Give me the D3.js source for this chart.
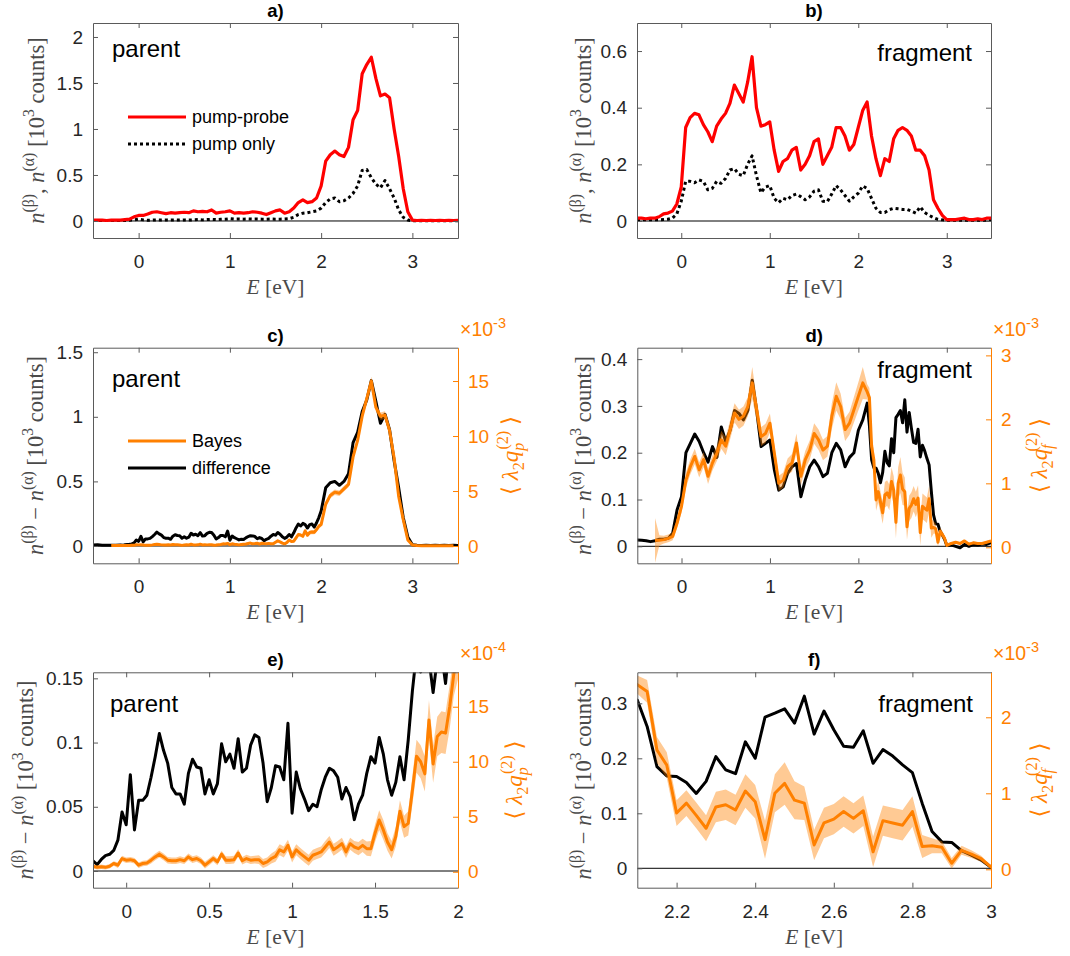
<!DOCTYPE html>
<html><head><meta charset="utf-8">
<script src="https://cdn.jsdelivr.net/npm/d3@7"></script>
<style>
body{margin:0;background:#fff}
svg{display:block}
</style>
</head><body>
<svg id="fig" width="1070" height="956" font-family="Liberation Sans, Arial, sans-serif"></svg>
<script>
// ---------------- DATA ----------------
// energy grid of panels a) and b)  [eV]
const gridAB = [-0.5,-0.45,-0.4,-0.35,-0.3,-0.25,-0.2,-0.15,-0.1,-0.05,0,0.05,0.1,0.15,0.2,0.25,0.3,0.35,0.4,0.45,0.5,0.55,0.6,0.65,0.7,0.75,0.8,0.85,0.9,0.95,1,1.05,1.1,1.15,1.2,1.25,1.3,1.35,1.4,1.45,1.5,1.55,1.6,1.65,1.7,1.75,1.8,1.85,1.9,1.95,2,2.05,2.1,2.15,2.2,2.25,2.3,2.35,2.4,2.45,2.5,2.55,2.6,2.65,2.7,2.75,2.8,2.85,2.9,2.95,3,3.05,3.1,3.15,3.2,3.25,3.3,3.35,3.4,3.45,3.5];
// a) parent, 10^3 counts
const parentPumpProbe = [0.01,0.01,0.01,0.005,0.01,0.01,0.01,0.015,0.02,0.045,0.06,0.06,0.075,0.095,0.1,0.09,0.08,0.09,0.085,0.09,0.095,0.09,0.11,0.1,0.105,0.1,0.12,0.085,0.095,0.1,0.11,0.085,0.09,0.085,0.09,0.1,0.095,0.085,0.07,0.09,0.11,0.12,0.085,0.1,0.14,0.2,0.23,0.2,0.21,0.25,0.38,0.65,0.72,0.76,0.72,0.7,0.8,1.1,1.2,1.6,1.7,1.78,1.55,1.36,1.38,1.34,1.0,0.7,0.35,0.1,0.01,0.005,0.008,0.005,0.006,0.005,0.008,0.005,0.006,0.005,0.006];
const parentPumpOnly = [0.005,0.005,0.005,0.004,0.005,0.005,0.005,0.006,0.008,0.012,0.02,0.012,0.008,0.01,0.012,0.01,0.012,0.01,0.012,0.01,0.012,0.01,0.012,0.015,0.012,0.015,0.018,0.015,0.018,0.02,0.025,0.02,0.022,0.02,0.022,0.02,0.022,0.02,0.02,0.022,0.02,0.02,0.022,0.025,0.04,0.07,0.085,0.09,0.1,0.11,0.14,0.2,0.24,0.25,0.21,0.22,0.25,0.3,0.38,0.55,0.56,0.47,0.4,0.36,0.44,0.35,0.25,0.12,0.04,0.01,0.003,0.003,0.003,0.003,0.003,0.003,0.003,0.003,0.003,0.003,0.003];
// b) fragment, 10^3 counts
const fragPumpProbe = [0.01,0.01,0.008,0.01,0.01,0.015,0.025,0.028,0.035,0.06,
 0.12,0.33,0.365,0.38,0.375,0.34,0.315,0.28,0.335,0.36,0.38,0.415,0.48,0.45,0.42,0.49,0.58,0.4,0.335,0.34,
 0.35,0.25,0.175,0.21,0.22,0.25,0.26,0.18,0.2,0.23,0.28,0.29,0.2,0.23,0.26,0.33,0.33,0.3,0.25,0.27,
 0.33,0.39,0.42,0.3,0.22,0.16,0.22,0.21,0.29,0.32,0.33,0.32,0.3,0.25,0.25,0.23,0.18,0.075,0.045,0.02,
 0.005,0.005,0.005,0.008,0.01,0.005,0.005,0.008,0.005,0.01,0.01];
const fragPumpOnly = [0.004,0.004,0.004,0.004,0.004,0.004,0.005,0.006,0.01,0.025,
 0.07,0.14,0.14,0.135,0.145,0.14,0.11,0.115,0.14,0.133,0.15,0.18,0.185,0.165,0.16,0.2,0.23,0.16,0.1,0.12,
 0.125,0.08,0.065,0.08,0.075,0.09,0.095,0.086,0.075,0.085,0.105,0.11,0.07,0.068,0.095,0.125,0.11,0.09,0.07,0.085,
 0.098,0.124,0.115,0.08,0.045,0.03,0.03,0.04,0.045,0.043,0.041,0.041,0.035,0.028,0.05,0.03,0.02,0.012,0.006,0.004,
 0.003,0.003,0.003,0.003,0.003,0.003,0.003,0.003,0.003,0.003,0.003];

// c) / e) parent: energy grid [eV]
const parentE = [-0.5,-0.45,-0.4,-0.35,-0.3,-0.25,
 -0.2,-0.175,-0.15,-0.125,-0.1,-0.075,-0.05,-0.025,
 0,0.025,0.05,0.075,0.1,0.125,0.15,0.175,
 0.2,0.225,0.25,0.275,0.3,0.325,0.35,0.375,
 0.4,0.425,0.45,0.475,0.5,0.525,0.55,0.575,
 0.6,0.625,0.65,0.675,0.7,0.725,0.75,0.775,
 0.8,0.825,0.85,0.875,0.9,0.925,0.95,0.975,
 1,1.025,1.05,1.075,1.1,1.125,1.15,1.175,
 1.2,1.225,1.25,1.275,1.3,1.325,1.35,1.375,
 1.4,1.425,1.45,1.475,1.5,1.525,1.55,1.575,
 1.6,1.625,1.65,1.675,1.7,1.725,1.75,1.775,
 1.8,1.825,1.85,1.875,1.9,1.925,1.95,1.975,
 2,
 2.05,2.1,2.15,2.2,2.25,2.3,2.35,2.4,2.45,2.5,2.55,2.6,2.65,2.7,2.75,2.8,2.85,2.9,2.95,3,
 3.05,3.1,3.15,3.2,3.25,3.3,3.35,3.4,3.45,3.5];
// difference n(beta)-n(alpha), 10^3 counts
const parentDiff = [0.008,0.01,0.005,0.006,0.005,0.006,
 0.008,0.005,0.009,0.012,0.013,0.016,0.024,0.046,
 0.036,0.075,0.032,0.055,0.055,0.059,0.073,0.089,
 0.107,0.094,0.084,0.065,0.06,0.06,0.052,0.076,
 0.087,0.081,0.08,0.06,0.071,0.06,0.068,0.099,
 0.085,0.091,0.08,0.103,0.077,0.08,0.098,0.106,
 0.104,0.084,0.054,0.065,0.082,0.081,0.071,0.115,
 0.045,0.077,0.064,0.056,0.047,0.052,0.05,0.063,
 0.073,0.08,0.078,0.073,0.056,0.065,0.058,0.04,
 0.052,0.059,0.076,0.089,0.084,0.104,0.091,0.071,
 0.059,0.069,0.089,0.071,0.102,0.14,0.17,0.155,
 0.175,0.165,0.139,0.165,0.17,0.146,0.18,0.22,
 0.27,
 0.45,0.49,0.5,0.47,0.5,0.56,0.8,0.88,1.04,1.13,1.28,1.12,0.95,1.02,0.9,0.66,0.45,0.22,0.07,0.01,
 0.005,0.004,0.005,0.004,0.005,0.004,0.005,0.004,0.005,0.004];
// Bayes <lambda2 qp(2)>, units of 10^-3
const parentBayes = [null,null,null,null,0.04,0.05,
 0.05,0.04,0.045,0.04,0.05,0.075,0.06,0.12,
 0.105,0.11,0.1,0.06,0.075,0.08,0.105,0.135,
 0.16,0.135,0.105,0.1,0.1,0.11,0.1,0.135,
 0.11,0.12,0.1,0.06,0.09,0.12,0.09,0.16,
 0.105,0.105,0.11,0.17,0.1,0.12,0.105,0.11,
 0.11,0.075,0.09,0.12,0.14,0.2,0.18,0.24,
 0.135,0.2,0.165,0.135,0.105,0.15,0.165,0.18,
 0.225,0.27,0.2,0.225,0.255,0.18,0.255,0.225,
 0.21,0.24,0.21,0.21,0.35,0.47,0.38,0.27,
 0.2,0.32,0.55,0.41,0.44,0.74,1.05,1.0,
 0.89,1.38,0.98,1.23,1.27,1.26,1.5,1.8,
 1.95,
 3.8,4.6,4.9,4.8,5.2,5.6,8.1,9.6,11.8,13.4,15.0,12.6,11.8,11.9,10.5,8.0,4.5,2.4,0.55,0.1,
 0.05,0.03,0.03,0.02,0.03,0.02,0.02,0.03,0.02,null];
const parentBayesErr = [null,null,null,null,0.03,0.03,
 0.02,0.02,0.02,0.02,0.02,0.02,0.025,0.025,
 0.025,0.025,0.025,0.025,0.025,0.025,0.03,0.03,
 0.03,0.03,0.03,0.03,0.03,0.03,0.03,0.03,
 0.03,0.03,0.03,0.03,0.03,0.03,0.03,0.03,
 0.035,0.035,0.035,0.035,0.035,0.035,0.035,0.035,
 0.04,0.04,0.04,0.045,0.05,0.05,0.05,0.05,
 0.05,0.05,0.05,0.05,0.05,0.05,0.05,0.05,
 0.055,0.055,0.055,0.055,0.055,0.055,0.055,0.055,
 0.06,0.06,0.065,0.07,0.08,0.09,0.09,0.08,
 0.08,0.09,0.1,0.1,0.11,0.13,0.15,0.15,
 0.16,0.18,0.17,0.18,0.19,0.19,0.2,0.2,
 0.2,
 0.25,0.25,0.25,0.25,0.25,0.25,0.3,0.3,0.35,0.35,0.4,0.35,0.35,0.35,0.3,0.3,0.25,0.2,0.1,0.05,
 0.02,0.02,0.02,0.02,0.02,0.02,0.02,0.02,0.02,null];

// d) / f) fragment: energy grid [eV]
const fragE = [-0.5,-0.45,-0.4,-0.35,-0.3,-0.25,-0.2,-0.15,-0.1,-0.05,
 0,0.05,0.1,0.15,0.2,0.25,0.3,0.35,0.4,0.45,
 0.5,0.55,0.6,0.65,0.7,0.75,0.8,0.85,0.9,0.95,
 1,1.05,1.1,1.15,1.2,1.25,1.3,1.35,1.4,1.45,
 1.5,1.55,1.6,1.65,1.7,1.75,1.8,1.85,1.9,1.95,
 2,2.05,
 2.1,2.125,2.15,2.175,2.2,2.225,2.25,2.275,
 2.3,2.325,2.35,2.375,2.4,2.425,2.45,2.475,
 2.5,2.525,2.55,2.575,2.6,2.625,2.65,2.675,
 2.7,2.725,2.75,2.775,2.8,2.825,2.85,2.875,
 2.9,2.925,2.95,2.975,3,
 3.05,3.1,3.15,3.2,3.25,3.3,3.35,3.4,3.45,3.5];
const fragDiff = [0.0135,0.013,0.012,0.01,0.012,0.015,0.015,0.017,0.028,0.078,
 0.106,0.2,0.22,0.24,0.224,0.2,0.18,0.213,0.19,0.255,
 0.224,0.248,0.29,0.284,0.27,0.29,0.355,0.29,0.213,0.22,
 0.227,0.163,0.12,0.127,0.156,0.17,0.177,0.106,0.142,0.17,
 0.184,0.17,0.149,0.156,0.2,0.22,0.206,0.17,0.19,0.2,
 0.248,0.27,
 0.306,0.258,0.185,0.168,0.167,0.156,0.136,0.158,
 0.203,0.179,0.172,0.23,0.2,0.275,0.282,0.29,
 0.264,0.313,0.244,0.286,0.252,0.222,0.22,0.25,
 0.191,0.216,0.204,0.188,0.174,0.118,0.067,0.048,
 0.047,0.032,0.024,0.015,0.002,
 0.003,0.0,-0.003,0.004,0.0,0.004,0.003,0.005,0.004,0.008];
// Bayes <lambda2 qf(2)>, units of 10^-3
const fragBayes = [null,null,null,null,0.11,0.11,0.12,0.14,0.17,0.38,
 0.64,1.05,1.26,1.42,1.21,1.37,1.11,1.32,1.47,1.68,
 1.58,1.84,2.1,2.0,2.05,2.2,2.57,2.15,1.73,1.78,
 1.94,1.47,1.0,1.05,1.26,1.32,1.63,1.11,1.37,1.52,
 1.78,1.68,1.52,1.58,2.05,2.36,2.2,1.84,1.94,2.15,
 2.36,2.57,
 2.43,2.34,1.57,1.37,0.74,0.87,0.71,0.54,
 0.82,0.85,0.78,1.03,0.89,0.39,1.0,1.13,
 0.91,0.87,0.32,0.61,0.66,0.76,0.67,0.77,
 0.23,0.64,0.61,0.58,0.76,0.3,0.31,0.29,
 0.08,0.25,0.2,0.14,0.03,
 0.06,0.08,0.06,0.1,0.05,0.07,0.06,0.06,0.08,0.1];
const fragBayesErr = [null,null,null,null,0.35,0.08,0.06,0.06,0.06,0.08,
 0.1,0.12,0.12,0.12,0.12,0.12,0.12,0.12,0.12,0.14,
 0.14,0.15,0.15,0.15,0.15,0.15,0.25,0.18,0.15,0.15,
 0.15,0.13,0.12,0.12,0.13,0.14,0.15,0.14,0.14,0.15,
 0.16,0.16,0.16,0.16,0.2,0.22,0.2,0.18,0.18,0.2,
 0.22,0.25,
 0.12,0.15,0.17,0.17,0.17,0.17,0.17,0.17,
 0.2,0.2,0.2,0.22,0.22,0.25,0.25,0.28,
 0.25,0.22,0.2,0.2,0.2,0.2,0.2,0.2,
 0.2,0.2,0.2,0.2,0.2,0.15,0.1,0.08,
 0.07,0.06,0.05,0.04,0.02,
 0.02,0.02,0.02,0.02,0.02,0.02,0.02,0.02,0.02,0.02];

// tick values
const ticksX = [0,1,2,3];
const ticksXe = [0,0.5,1,1.5,2];
const ticksXf = [2.2,2.4,2.6,2.8,3];
const ticksYa = [0,0.5,1,1.5,2];
const ticksYb = [0,0.2,0.4,0.6];
const ticksYc = [0,0.5,1,1.5];
const ticksYd = [0,0.1,0.2,0.3,0.4];
const ticksYe = [0,0.05,0.1,0.15];
const ticksYf = [0,0.1,0.2,0.3];
const ticksRc = [0,5,10,15];
const ticksRd = [0,1,2,3];
const ticksRe = [0,5,10,15];
const ticksRf = [0,1,2];

// ---------------- DRAWING ----------------
const svg = d3.select("#fig");
const RED = "#ff0000", ORANGE = "#ff8000", FRAME = "#5a5a5a", TXT = "#262626", LBL = "#4a4a4a";
const SANS = "Liberation Sans, Arial, sans-serif";
const SERIF = "Liberation Serif, Times New Roman, serif";
const fmt = d3.format("~g");

function rich(sel, parts, fs){
  let cur = 0;
  parts.forEach(p => {
    const ts = sel.append("tspan").text(p.t);
    let target = p.sup ? -0.45*fs : (p.sub ? 0.25*fs : 0);
    ts.attr("dy", target - cur);
    cur = target;
    if (p.sup || p.sub) ts.attr("font-size", fs*0.7);
    if (p.it) ts.attr("font-style", "italic");
    if (p.dx) ts.attr("dx", p.dx);
  });
}

function panel(o){
  const x = d3.scaleLinear().domain(o.xd).range([o.l, o.r]);
  const y = d3.scaleLinear().domain(o.yd).range([o.b, o.t]);
  const y2 = o.y2d ? d3.scaleLinear().domain(o.y2d).range([o.b, o.t]) : null;
  const cid = "clip_" + o.name;
  svg.append("clipPath").attr("id", cid).append("rect")
    .attr("x", o.l).attr("y", o.t).attr("width", o.r - o.l).attr("height", o.b - o.t);
  const plot = svg.append("g").attr("clip-path", `url(#${cid})`);

  // zero line
  plot.append("line").attr("x1", o.l).attr("x2", o.r).attr("y1", y(0)).attr("y2", y(0))
    .attr("stroke", "#000").attr("stroke-width", 1);

  o.series.forEach(s => {
    const sc = s.right ? y2 : y;
    const k = s.k || 1;
    if (s.err) {
      const area = d3.area().defined(i => s.y[i] !== null && s.err[i] !== null)
        .x(i => x(s.x[i])).y0(i => sc((s.y[i] - s.err[i]) * k)).y1(i => sc((s.y[i] + s.err[i]) * k));
      plot.append("path").attr("d", area(d3.range(s.x.length))).attr("fill", ORANGE).attr("fill-opacity", 0.42);
    }
    const line = d3.line().defined(i => s.y[i] !== null).x(i => x(s.x[i])).y(i => sc(s.y[i] * k));
    plot.append("path").attr("d", line(d3.range(s.x.length))).attr("fill", "none")
      .attr("stroke", s.color).attr("stroke-width", s.w)
      .attr("stroke-dasharray", s.dash || null).attr("stroke-linejoin", "round");
  });

  const fs = 19;
  const gb = svg.append("g").attr("transform", `translate(0,${o.b})`)
    .call(d3.axisBottom(x).tickValues(o.xt).tickFormat(fmt).tickSizeInner(-5).tickSizeOuter(0).tickPadding(16.5));
  const gt = svg.append("g").attr("transform", `translate(0,${o.t})`)
    .call(d3.axisTop(x).tickValues(o.xt).tickFormat("").tickSizeInner(-5).tickSizeOuter(0));
  const gl = svg.append("g").attr("transform", `translate(${o.l},0)`)
    .call(d3.axisLeft(y).tickValues(o.yt).tickFormat(fmt).tickSizeInner(-5).tickSizeOuter(0).tickPadding(10));
  let gr;
  if (y2) {
    gr = svg.append("g").attr("transform", `translate(${o.r},0)`)
      .call(d3.axisRight(y2).tickValues(o.rt).tickFormat(fmt).tickSizeInner(-5).tickSizeOuter(0).tickPadding(10));
    gr.attr("color", ORANGE);
  } else {
    gr = svg.append("g").attr("transform", `translate(${o.r},0)`)
      .call(d3.axisRight(y).tickValues(o.yt).tickFormat("").tickSizeInner(-5).tickSizeOuter(0));
    gr.attr("color", FRAME);
  }
  [gb, gt, gl].forEach(g => g.attr("color", FRAME));
  [gb, gt, gl, gr].forEach(g => {
    g.attr("font-family", SANS).attr("font-size", fs);
    g.selectAll("text").attr("font-size", fs);
    g.select(".domain").attr("stroke-width", 1);
  });
  [gb, gl].forEach(g => g.selectAll("text").attr("fill", TXT));
  if (y2) gr.selectAll("text").attr("fill", ORANGE);

  // title
  svg.append("text").attr("x", (o.l + o.r) / 2).attr("y", o.t - 6).attr("text-anchor", "middle")
    .attr("font-weight", "bold").attr("font-size", 18.5).attr("fill", "#000").text(o.title);

  // x label
  const xl = svg.append("text").attr("x", (o.l + o.r) / 2).attr("y", o.b + 56).attr("text-anchor", "middle")
    .attr("font-family", SERIF).attr("font-size", 21.5).attr("fill", LBL);
  rich(xl, [{t: "E", it: true}, {t: " [eV]"}], 21.5);

  // y label
  const yl = svg.append("text").attr("transform", `translate(${o.ylx},${(o.t + o.b) / 2}) rotate(-90)`)
    .attr("text-anchor", "middle").attr("font-family", SERIF)
    .attr("font-size", 22.5).attr("fill", LBL);
  rich(yl, o.ylabel, 22.5);

  if (y2) {
    const rl = svg.append("text").attr("transform", `translate(${o.rlx},${(o.t + o.b) / 2}) rotate(-90)`)
      .attr("text-anchor", "middle").attr("font-family", "Liberation Serif, DejaVu Serif, serif")
      .attr("font-size", 23).attr("fill", ORANGE);
    rich(rl, [{t: "\u27E8 "}, {t: "\u03BB", it: true}, {t: "2", sub: true}, {t: "q", it: true},
      {t: o.sub, it: true, sub: true}, {t: "(2)", sup: true, dx: -7}, {t: " \u27E9"}], 23);
    const mt = svg.append("text").attr("x", o.r + 2).attr("y", o.t - 12).attr("font-size", 19.5).attr("fill", ORANGE);
    mt.append("tspan").text("\u00D710");
    mt.append("tspan").attr("dy", -8).attr("font-size", 14.5).text(o.mult);
  }

  // annotation
  svg.append("text").attr("x", o.ann.x).attr("y", o.ann.y).attr("font-size", 24)
    .attr("fill", "#000").attr("text-anchor", o.ann.anchor).text(o.ann.t);

  // legend
  if (o.legend) {
    o.legend.forEach(lg => {
      svg.append("line").attr("x1", 128).attr("x2", 186).attr("y1", lg.y).attr("y2", lg.y)
        .attr("stroke", lg.color).attr("stroke-width", lg.w).attr("stroke-dasharray", lg.dash || null);
      svg.append("text").attr("x", 192).attr("y", lg.y).attr("dy", "0.35em").attr("font-size", 18)
        .attr("fill", "#000").text(lg.t);
    });
  }
}

const ylabAB = [{t: "n", it: true}, {t: "(\u03B2)", sup: true}, {t: ", "}, {t: "n", it: true}, {t: "(\u03B1)", sup: true},
  {t: " [10"}, {t: "3", sup: true}, {t: " counts]"}];
const ylabDiff = [{t: "n", it: true}, {t: "(\u03B2)", sup: true}, {t: " \u2212 "}, {t: "n", it: true}, {t: "(\u03B1)", sup: true},
  {t: " [10"}, {t: "3", sup: true}, {t: " counts]"}];

// a)
panel({name: "a", title: "a)", l: 93, r: 458, t: 23, b: 238, xd: [-0.5, 3.5], yd: [-0.185, 2.152],
  xt: ticksX, yt: ticksYa, ylx: 44, ylabel: ylabAB,
  ann: {t: "parent", x: 112, y: 57, anchor: "start"},
  series: [
    {x: gridAB, y: parentPumpOnly, color: "#000", w: 3, dash: "3,3"},
    {x: gridAB, y: parentPumpProbe, color: RED, w: 3.2}
  ],
  legend: [{t: "pump-probe", y: 117, color: RED, w: 3.2}, {t: "pump only", y: 144, color: "#000", w: 3, dash: "3,3"}]
});
// b)
panel({name: "b", title: "b)", l: 637, r: 991, t: 23, b: 238, xd: [-0.5, 3.5], yd: [-0.06, 0.699],
  xt: ticksX, yt: ticksYb, ylx: 591, ylabel: ylabAB,
  ann: {t: "fragment", x: 972, y: 61, anchor: "end"},
  series: [
    {x: gridAB, y: fragPumpOnly, color: "#000", w: 3, dash: "3,3"},
    {x: gridAB, y: fragPumpProbe, color: RED, w: 3.2}
  ]
});
// c)
panel({name: "c", title: "c)", l: 93, r: 458, t: 347.7, b: 563.3, xd: [-0.5, 3.5], yd: [-0.134, 1.535], y2d: [-1.57, 18.03],
  xt: ticksX, yt: ticksYc, rt: ticksRc, ylx: 43, ylabel: ylabDiff, rlx: 518, sub: "p", mult: "-3",
  ann: {t: "parent", x: 112, y: 387, anchor: "start"},
  series: [
    {x: parentE, y: parentDiff, color: "#000", w: 3},
    {x: parentE, y: parentBayes, err: parentBayesErr, right: true, color: ORANGE, w: 3}
  ],
  legend: [{t: "Bayes", y: 441, color: ORANGE, w: 3.2}, {t: "difference", y: 468, color: "#000", w: 3.2}]
});
// d)
panel({name: "d", title: "d)", l: 637.3, r: 991, t: 347.7, b: 563.3, xd: [-0.5, 3.5], yd: [-0.0363, 0.4244], y2d: [-0.25, 3.12],
  xt: ticksX, yt: ticksYd, rt: ticksRd, ylx: 591, ylabel: ylabDiff, rlx: 1047, sub: "f", mult: "-3",
  ann: {t: "fragment", x: 972, y: 378, anchor: "end"},
  series: [
    {x: fragE, y: fragDiff, color: "#000", w: 3},
    {x: fragE, y: fragBayes, err: fragBayesErr, right: true, color: ORANGE, w: 3}
  ]
});
// e)  (right axis in units of 10^-4: Bayes values x10)
panel({name: "e", title: "e)", l: 93, r: 458, t: 672.3, b: 887.7, xd: [-0.2, 2], yd: [-0.013, 0.1547], y2d: [-1.45, 18.13],
  xt: ticksXe, yt: ticksYe, rt: ticksRe, ylx: 33, ylabel: ylabDiff, rlx: 522, sub: "p", mult: "-4",
  ann: {t: "parent", x: 110, y: 712, anchor: "start"},
  series: [
    {x: parentE, y: parentDiff, color: "#000", w: 3},
    {x: parentE, y: parentBayes, err: parentBayesErr, right: true, k: 10, color: ORANGE, w: 3}
  ]
});
// f)
panel({name: "f", title: "f)", l: 637.3, r: 991, t: 672.3, b: 887.7, xd: [2.1, 3], yd: [-0.0353, 0.3564], y2d: [-0.242, 2.592],
  xt: ticksXf, yt: ticksYf, rt: ticksRf, ylx: 591, ylabel: ylabDiff, rlx: 1047, sub: "f", mult: "-3",
  ann: {t: "fragment", x: 973, y: 712, anchor: "end"},
  series: [
    {x: fragE, y: fragDiff, color: "#000", w: 3},
    {x: fragE, y: fragBayes, err: fragBayesErr, right: true, color: ORANGE, w: 3}
  ]
});
</script>
</body></html>
